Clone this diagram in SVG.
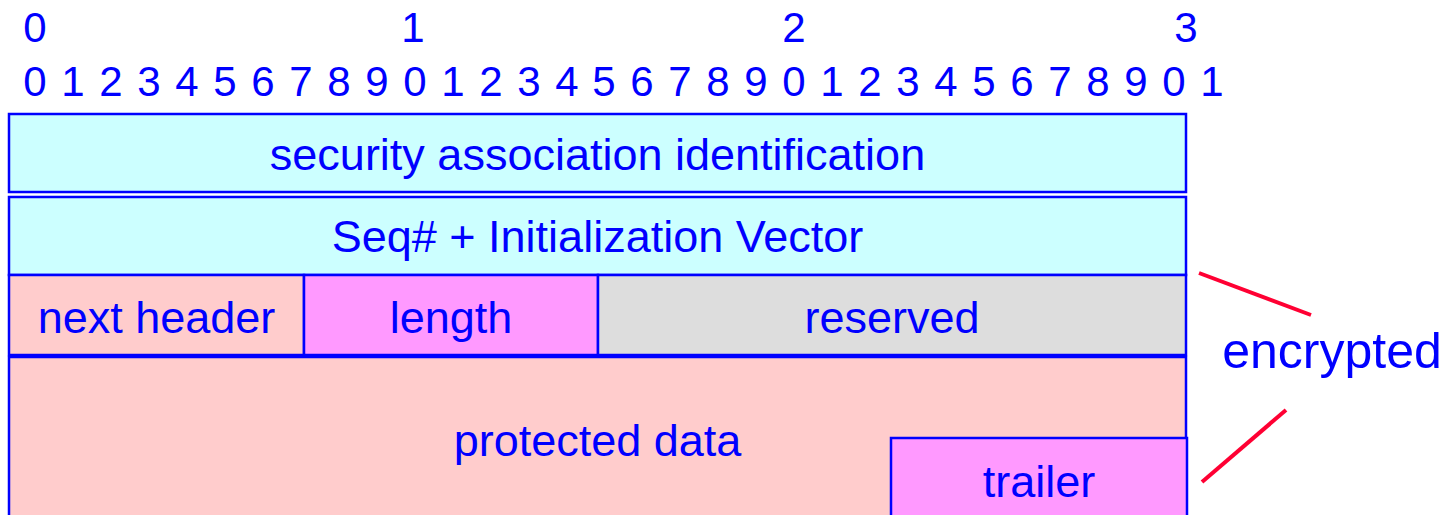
<svg xmlns="http://www.w3.org/2000/svg" width="1456" height="515" viewBox="0 0 1456 515">
<style>
text{font-family:"Liberation Sans",Arial,sans-serif;fill:#0000ff;text-anchor:middle}
.num{font-size:42px}
.lbl{font-size:45px}
.box{stroke:#0000ff;stroke-width:2.5}
.cyan{fill:#ccffff}.pink{fill:#ffcccc}.mag{fill:#ff99ff}.gray{fill:#dddddd}
.red{stroke:#ff0033;stroke-width:4;fill:none}
</style>
<g id="ruler">
<text class="num" x="35" y="42">0</text>
<text class="num" x="413" y="42">1</text>
<text class="num" x="794" y="42">2</text>
<text class="num" x="1186" y="42">3</text>
<text class="num" y="96"><tspan x="35">0</tspan><tspan x="73">1</tspan><tspan x="111">2</tspan><tspan x="149">3</tspan><tspan x="187">4</tspan><tspan x="225">5</tspan><tspan x="263">6</tspan><tspan x="301">7</tspan><tspan x="339">8</tspan><tspan x="377">9</tspan><tspan x="415">0</tspan><tspan x="453">1</tspan><tspan x="491">2</tspan><tspan x="529">3</tspan><tspan x="567">4</tspan><tspan x="604">5</tspan><tspan x="642">6</tspan><tspan x="680">7</tspan><tspan x="718">8</tspan><tspan x="756">9</tspan><tspan x="794">0</tspan><tspan x="832">1</tspan><tspan x="870">2</tspan><tspan x="908">3</tspan><tspan x="946">4</tspan><tspan x="984">5</tspan><tspan x="1022">6</tspan><tspan x="1060">7</tspan><tspan x="1098">8</tspan><tspan x="1136">9</tspan><tspan x="1174">0</tspan><tspan x="1212">1</tspan></text>
</g>
<g id="sa">
<rect class="box cyan" x="9" y="114" width="1177" height="78"/>
<text class="lbl" x="597.5" y="170">security association identification</text>
</g>
<g id="seq">
<rect class="box cyan" x="9" y="197" width="1177" height="78"/>
<text class="lbl" x="597.5" y="252">Seq# + Initialization Vector</text>
</g>
<g id="nexthdr">
<rect class="box pink" x="9" y="275" width="295" height="80"/>
<text class="lbl" x="156.5" y="333">next header</text>
</g>
<g id="length">
<rect class="box mag" x="304" y="275" width="294" height="80"/>
<text class="lbl" x="451" y="333">length</text>
</g>
<g id="reserved">
<rect class="box gray" x="598" y="275" width="588" height="80"/>
<text class="lbl" x="892" y="333">reserved</text>
</g>
<g id="data">
<rect class="box pink" x="9" y="357" width="1177" height="170"/>
<text class="lbl" x="597.5" y="456">protected data</text>
</g>
<g id="trailer">
<rect class="box mag" x="891" y="438" width="296" height="90"/>
<text class="lbl" x="1039" y="497">trailer</text>
</g>
<g id="connectors">
<line class="red" x1="1199" y1="273" x2="1311" y2="315"/>
<line class="red" x1="1286" y1="410" x2="1202" y2="482"/>
</g>
<g id="encrypted">
<text x="1332" y="368" style="font-size:50px">encrypted</text>
</g>
</svg>
